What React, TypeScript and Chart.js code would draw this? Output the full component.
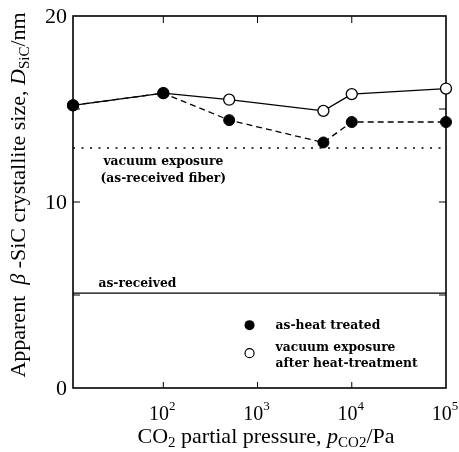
import React, { useEffect, useRef } from "react";
import { Chart, registerables } from "chart.js";

Chart.register(...registerables);

const pressures = [11, 100, 500, 5000, 10000, 100000];
const heatTreated = [15.2, 15.85, 14.4, 13.2, 14.3, 14.3];
const vacuumAfterHeat = [15.2, 15.85, 15.5, 14.9, 15.8, 16.1];
const vacuumAsReceivedLevel = 12.9;
const asReceivedLevel = 5.1;
const xMin = 11;
const xMax = 100000;
const yMin = 0;
const yMax = 20;
const yTickValues = [0, 5, 10, 15, 20];
const yTickLabels = ["0", "", "10", "", "20"];
const xTickValues = [100, 1000, 10000, 100000];
const xTickExponents = ["2", "3", "4", "5"];
const legendLabels = ["as-heat treated", "vacuum exposure", "after heat-treatment"];

const SERIF = '"Liberation Serif", "Times New Roman", serif';
const BOLD = `bold 12.3px "DejaVu Serif", serif`;

type Part = { t: string; f: string; dy?: number };

function drawRich(ctx: CanvasRenderingContext2D, parts: Part[], x: number, y: number, align: "left" | "center") {
  let total = 0;
  for (const p of parts) {
    ctx.font = p.f;
    total += ctx.measureText(p.t).width;
  }
  let cx = align === "center" ? x - total / 2 : x;
  ctx.textAlign = "left";
  ctx.textBaseline = "alphabetic";
  for (const p of parts) {
    ctx.font = p.f;
    ctx.fillText(p.t, cx, y + (p.dy || 0));
    cx += ctx.measureText(p.t).width;
  }
}

const framePlugin = {
  id: "frame",
  beforeDatasetsDraw(chart: any) {
    const { ctx, chartArea: a, scales } = chart;
    const xs = scales.x;
    const ys = scales.y;
    ctx.save();
    ctx.strokeStyle = "#000";
    ctx.lineWidth = 1.6;
    ctx.strokeRect(a.left, a.top, a.right - a.left, a.bottom - a.top);
    ctx.lineWidth = 1;
    ctx.beginPath();
    yTickValues.forEach((v) => {
      if (v === yMin || v === yMax) return;
      const py = ys.getPixelForValue(v);
      ctx.moveTo(a.left, py);
      ctx.lineTo(a.left + 7, py);
      ctx.moveTo(a.right, py);
      ctx.lineTo(a.right - 7, py);
    });
    xTickValues.forEach((v) => {
      if (v === xMax) return;
      const px = xs.getPixelForValue(v);
      ctx.moveTo(px, a.bottom);
      ctx.lineTo(px, a.bottom - 6);
      ctx.moveTo(px, a.top);
      ctx.lineTo(px, a.top + 7);
    });
    ctx.stroke();

    // y tick labels
    ctx.fillStyle = "#000";
    ctx.font = `22px ${SERIF}`;
    ctx.textAlign = "right";
    ctx.textBaseline = "middle";
    yTickValues.forEach((v, i) => {
      if (!yTickLabels[i]) return;
      ctx.fillText(yTickLabels[i], a.left - 6, ys.getPixelForValue(v) + 1);
    });
    // x tick labels
    xTickValues.forEach((v, i) => {
      const px = xs.getPixelForValue(v);
      drawRich(
        ctx,
        [
          { t: "10", f: `20px ${SERIF}` },
          { t: xTickExponents[i], f: `13px ${SERIF}`, dy: -10 },
        ],
        px - 1,
        a.bottom + 32,
        "center"
      );
    });

    // x title
    drawRich(
      ctx,
      [
        { t: "CO", f: `22px ${SERIF}` },
        { t: "2", f: `15px ${SERIF}`, dy: 4 },
        { t: " partial pressure, ", f: `22px ${SERIF}` },
        { t: "p", f: `italic 22px ${SERIF}` },
        { t: "CO2", f: `15px ${SERIF}`, dy: 4 },
        { t: "/Pa", f: `22px ${SERIF}` },
      ],
      266,
      a.bottom + 55,
      "center"
    );

    // y title
    ctx.save();
    ctx.translate(25, 195);
    ctx.rotate(-Math.PI / 2);
    drawRich(
      ctx,
      [
        { t: "Apparent  ", f: `22px ${SERIF}` },
        { t: "β", f: `italic 22px ${SERIF}` },
        { t: " -SiC crystallite size, ", f: `22px ${SERIF}` },
        { t: "D", f: `italic 22px ${SERIF}` },
        { t: "SiC", f: `15px ${SERIF}`, dy: 4 },
        { t: "/nm", f: `22px ${SERIF}` },
      ],
      0,
      0,
      "center"
    );
    ctx.restore();

    // annotations
    ctx.font = BOLD;
    ctx.textAlign = "center";
    ctx.textBaseline = "alphabetic";
    const annX = xs.getPixelForValue(100);
    const vy = ys.getPixelForValue(vacuumAsReceivedLevel);
    ctx.fillText("vacuum exposure", annX, vy + 17);
    ctx.fillText("(as-received fiber)", annX, vy + 34);
    ctx.textAlign = "left";
    const ry = ys.getPixelForValue(asReceivedLevel);
    ctx.fillText("as-received", xs.getPixelForValue(20.5), ry - 6);

    // legend
    const lx = xs.getPixelForValue(1000) - 8;
    const tx = lx + 26;
    const l1 = ys.getPixelForValue(asReceivedLevel) + 32;
    ctx.beginPath();
    ctx.arc(lx, l1, 5, 0, Math.PI * 2);
    ctx.fillStyle = "#000";
    ctx.fill();
    ctx.fillText(legendLabels[0], tx, l1 + 4);
    const l2 = l1 + 28;
    ctx.beginPath();
    ctx.arc(lx, l2, 4.5, 0, Math.PI * 2);
    ctx.fillStyle = "#fff";
    ctx.fill();
    ctx.lineWidth = 1.2;
    ctx.stroke();
    ctx.fillStyle = "#000";
    ctx.fillText(legendLabels[1], tx, l2 - 2);
    ctx.fillText(legendLabels[2], tx, l2 + 14);
    ctx.restore();
  },
};

export default function App() {
  const ref = useRef<HTMLCanvasElement>(null);
  useEffect(() => {
    document.body.style.margin = "0";
    const chart = new Chart(ref.current!, {
      type: "scatter",
      data: {
        datasets: [
          {
            label: "as-heat treated",
            data: pressures.map((p, i) => ({ x: p, y: heatTreated[i] })),
            showLine: true,
            borderColor: "#000",
            borderWidth: 1.3,
            borderDash: [6, 4],
            pointRadius: 5.5,
            pointBackgroundColor: "#000",
            pointBorderColor: "#000",
            pointBorderWidth: 1,
            clip: false as any,
            order: 0,
          },
          {
            label: "vacuum exposure after heat-treatment",
            data: pressures.map((p, i) => ({ x: p, y: vacuumAfterHeat[i] })),
            showLine: true,
            borderColor: "#000",
            borderWidth: 1.3,
            pointRadius: 5.5,
            pointBackgroundColor: "#fff",
            pointBorderColor: "#000",
            pointBorderWidth: 1.3,
            clip: false as any,
            order: 1,
          },
          {
            label: "vacuum exposure (as-received fiber)",
            data: [
              { x: xMin, y: vacuumAsReceivedLevel },
              { x: xMax, y: vacuumAsReceivedLevel },
            ],
            showLine: true,
            borderColor: "#000",
            borderWidth: 1.5,
            borderDash: [2, 6.5],
            pointRadius: 0,
            order: 2,
          },
          {
            label: "as-received",
            data: [
              { x: xMin, y: asReceivedLevel },
              { x: xMax, y: asReceivedLevel },
            ],
            showLine: true,
            borderColor: "#000",
            borderWidth: 1.2,
            pointRadius: 0,
            order: 3,
          },
        ],
      },
      options: {
        responsive: false,
        animation: false,
        devicePixelRatio: 1,
        layout: { padding: { top: 16, right: 13, left: 0, bottom: 0 } },
        plugins: { legend: { display: false }, tooltip: { enabled: false }, title: { display: false } },
        scales: {
          x: {
            type: "logarithmic",
            min: xMin,
            max: xMax,
            ticks: { display: false },
            grid: { display: false },
            border: { display: false },
            afterFit: (s: any) => {
              s.height = 64;
            },
          },
          y: {
            type: "linear",
            min: yMin,
            max: yMax,
            ticks: { display: false },
            grid: { display: false },
            border: { display: false },
            afterFit: (s: any) => {
              s.width = 73;
            },
          },
        },
      },
      plugins: [framePlugin],
    });
    return () => chart.destroy();
  }, []);
  return (
    <div style={{ position: "absolute", left: 0, top: 0, width: 459, height: 452, background: "#fff" }}>
      <canvas ref={ref} width={459} height={452} />
    </div>
  );
}
